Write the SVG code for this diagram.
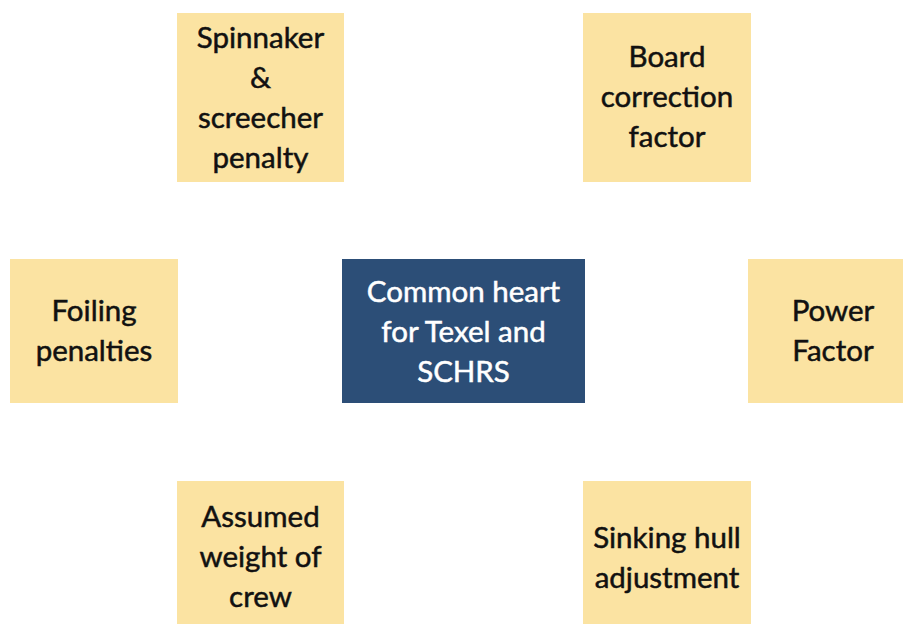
<svg xmlns="http://www.w3.org/2000/svg" width="903" height="624" viewBox="0 0 903 624">
<style>
.b{fill:#FBE3A2}
.c{fill:#2C4E77}
text{font-family:Lato,"Open Sans",sans-serif;font-size:29.5px;text-anchor:middle;fill:#111;stroke:#111;stroke-width:0.5px}
text.w{fill:#fff;stroke:#fff}
</style>
<rect width="903" height="624" fill="#fff"/>
<g id="connectors"></g>
<g id="spinnaker"><rect class="b" x="177" y="13" width="167" height="169"/>
<text x="260.5" y="48">Spinnaker</text><text x="260.5" y="88">&amp;</text><text x="260.5" y="128">screecher</text><text x="260.5" y="168">penalty</text></g>
<g id="board"><rect class="b" x="583" y="13" width="168" height="169"/>
<text x="667" y="67">Board</text><text x="667" y="107">correction</text><text x="667" y="147">factor</text></g>
<g id="foiling"><rect class="b" x="10" y="259" width="168" height="144"/>
<text x="94" y="321">Foiling</text><text x="94" y="361">penalties</text></g>
<g id="center"><rect class="c" x="342" y="259" width="243" height="144"/>
<text class="w" x="463.5" y="302">Common heart</text><text class="w" x="463.5" y="342">for Texel and</text><text class="w" x="463.5" y="382">SCHRS</text></g>
<g id="power"><rect class="b" x="748" y="259" width="168" height="144"/>
<text x="833" y="321">Power</text><text x="833" y="361">Factor</text></g>
<g id="crew"><rect class="b" x="177" y="481" width="167" height="160"/>
<text x="260.5" y="527">Assumed</text><text x="260.5" y="567">weight of</text><text x="260.5" y="607">crew</text></g>
<g id="sinking"><rect class="b" x="583" y="481" width="168" height="160"/>
<text x="667" y="548">Sinking hull</text><text x="667" y="588">adjustment</text></g>
</svg>
